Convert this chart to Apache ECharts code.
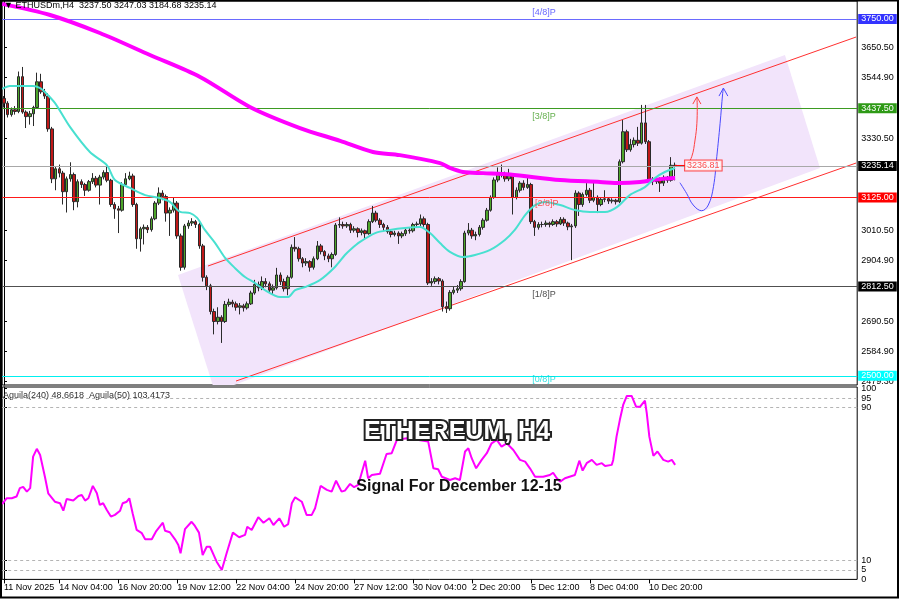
<!DOCTYPE html>
<html><head><meta charset="utf-8">
<script src="https://cdn.jsdelivr.net/npm/echarts@6/dist/echarts.min.js"></script>
<style>html,body{margin:0;padding:0;background:#fff}#c{width:900px;height:599px}</style>
</head><body><div id="c"></div><script>
// ---------- DATA ----------
// candles: [open, close, low, high]
const candles = [
[3472,3455,3440,3480],[3455,3415,3405,3462],[3415,3432,3408,3440],[3432,3426,3415,3445],[3426,3548,3420,3566],
[3548,3424,3418,3582],[3424,3408,3368,3430],[3408,3418,3380,3428],[3418,3440,3375,3446],[3440,3530,3435,3562],
[3530,3495,3488,3558],[3495,3480,3470,3505],[3480,3365,3355,3490],[3365,3190,3175,3372],[3190,3225,3150,3232],
[3225,3210,3195,3240],[3210,3145,3100,3218],[3145,3190,3072,3198],[3190,3205,3180,3248],[3205,3110,3080,3212],
[3110,3180,3090,3188],[3180,3170,3158,3188],[3170,3150,3130,3176],[3150,3180,3145,3186],[3180,3192,3172,3210],
[3192,3168,3160,3200],[3168,3196,3100,3204],[3196,3212,3188,3220],[3212,3185,3178,3240],[3185,3100,3092,3190],
[3100,3085,3050,3108],[3085,3080,3000,3095],[3080,3170,3075,3178],[3170,3190,3162,3210],[3190,3200,3185,3215],
[3200,3100,3092,3208],[3100,2980,2945,3106],[2980,3015,2935,3022],[3015,3020,2960,3030],[3020,3012,3000,3028],
[3012,3050,3005,3058],[3050,3105,3045,3112],[3105,3140,3098,3160],[3140,3128,3115,3150],[3128,3070,3040,3135],
[3070,3080,2990,3090],[3080,3105,3072,3125],[3105,2990,2980,3112],[2990,2880,2868,2998],[2880,3025,2872,3032],
[3025,3035,3015,3045],[3035,3040,3025,3052],[3040,3030,3018,3046],[3030,2955,2945,3036],[2955,2845,2830,2962],
[2845,2815,2800,2852],[2815,2725,2715,2822],[2725,2690,2645,2735],[2690,2705,2680,2740],[2705,2690,2615,2712],
[2690,2750,2685,2762],[2750,2758,2742,2770],[2758,2752,2740,2766],[2752,2740,2728,2760],[2740,2745,2715,2755],
[2745,2738,2725,2752],[2738,2752,2732,2760],[2752,2790,2748,2798],[2790,2820,2784,2836],[2820,2808,2796,2830],
[2808,2830,2800,2848],[2830,2822,2810,2842],[2822,2800,2790,2830],[2800,2808,2785,2820],[2808,2853,2802,2878],
[2853,2830,2818,2862],[2830,2805,2795,2840],[2805,2845,2782,2852],[2845,2950,2840,2960],[2950,2945,2935,2986],
[2945,2910,2900,2952],[2910,2895,2880,2916],[2895,2900,2885,2912],[2900,2880,2865,2905],[2880,2910,2872,2918],
[2910,2955,2905,2972],[2955,2935,2925,2962],[2935,2920,2905,2940],[2920,2910,2898,2928],[2910,2925,2880,2932],
[2925,3028,2920,3035],[3028,3030,3018,3055],[3030,3025,3015,3040],[3025,3030,3018,3038],[3030,3010,3000,3036],
[3010,3015,3002,3024],[3015,3002,2985,3020],[3002,3008,2992,3016],[3008,2998,2978,3012],[2998,3040,2994,3048],
[3040,3070,3035,3095],[3070,3045,3038,3078],[3045,3030,3018,3052],[3030,3020,3008,3036],[3020,3005,2998,3028],
[3005,2995,2985,3012],[2995,3000,2988,3008],[3000,2990,2962,3006],[2990,2998,2982,3005],[2998,3010,2990,3016],
[3010,3008,2998,3018],[3008,3030,3002,3036],[3030,3032,3020,3040],[3032,3050,3025,3065],[3050,3030,3022,3058],
[3030,2825,2818,3036],[2825,2830,2815,2842],[2830,2840,2822,2848],[2840,2832,2820,2846],[2832,2742,2725,2838],
[2742,2735,2720,2760],[2735,2792,2728,2800],[2792,2800,2785,2812],[2800,2805,2790,2818],[2805,2830,2798,2838],
[2830,3000,2826,3008],[3000,3010,2992,3035],[3010,2990,2980,3018],[2990,2995,2975,3005],[2995,3020,2988,3028],
[3020,3045,3012,3052],[3045,3080,3040,3088],[3080,3125,3075,3132],[3125,3186,3120,3195],[3186,3210,3178,3230],
[3210,3205,3195,3240],[3205,3190,3180,3215],[3190,3205,3182,3225],[3205,3125,3065,3210],[3125,3150,3118,3160],
[3150,3175,3142,3182],[3175,3160,3150,3185],[3160,3170,3155,3200],[3170,3040,3032,3176],[3040,3020,2990,3046],
[3020,3030,3012,3038],[3030,3030,3020,3040],[3030,3035,3022,3044],[3035,3030,3020,3040],[3030,3040,3025,3048],
[3040,3032,3022,3046],[3032,3048,3028,3056],[3048,3035,3025,3055],[3035,3022,3010,3040],[3022,3025,2905,3032],
[3025,3140,3018,3150],[3140,3100,3060,3146],[3100,3135,3092,3142],[3135,3150,3128,3175],[3150,3115,3105,3158],
[3115,3125,3108,3178],[3125,3100,3070,3132],[3100,3118,3094,3126],[3118,3120,3108,3150],[3120,3112,3102,3126],
[3112,3115,3104,3122],[3115,3110,3100,3120],[3110,3250,3105,3258],[3250,3355,3244,3396],[3355,3292,3284,3362],
[3292,3310,3285,3330],[3310,3325,3300,3335],[3325,3315,3305,3372],[3315,3386,3310,3449],[3386,3320,3312,3449],
[3320,3188,3180,3326],[3188,3180,3168,3196],[3180,3190,3172,3198],[3190,3175,3144,3195],[3175,3195,3165,3202],
[3195,3185,3176,3200],[3185,3237.5,3180,3266],[3237.50,3235.14,3184.68,3247.03]
];
// moving averages: [bar index, price]
const maFast = [[-0.5,3505],[1.6,3515],[4.3,3515],[7.9,3515],[9.8,3508],[11.1,3494],[13.8,3456],[17.9,3372],[23.3,3284],[27.9,3238],[30.1,3186],[34.2,3158],[38.3,3133],[42.3,3123],[45.0,3109],[47.8,3074],[50.5,3070],[52.4,3053],[54.5,3011],[57.3,2965],[60.0,2913],[62.7,2877],[65.4,2846],[68.1,2825],[70.8,2800],[74.9,2776],[77.1,2776],[79.0,2800],[81.7,2811],[85.7,2835],[89.8,2881],[92.5,2923],[93.9,2941],[96.6,2969],[100.7,3000],[104.7,3011],[108.8,3018],[112.9,3021],[115.6,3000],[118.3,2965],[121.0,2934],[124.5,2916],[127.8,2923],[131.9,2941],[135.9,2976],[138.6,3011],[141.4,3063],[144.1,3098],[146.8,3109],[150.9,3098],[154.9,3081],[159.0,3074],[163.1,3074],[166.3,3091],[169.8,3133],[173.9,3161],[176.6,3193],[179.3,3214],[182.1,3228]];
const maSlow = [[-0.5,3803],[12.5,3764],[26.0,3701],[39.6,3624],[53.2,3547],[66.7,3442],[80.3,3368],[91.2,3323],[100.1,3284],[107.4,3273],[118.3,3245],[121.0,3228],[124.5,3214],[130.0,3210],[137.3,3205],[150.9,3186],[161.7,3179],[167.1,3175],[172.6,3179],[178.0,3189],[182.1,3193]];
// Aguila(240) oscillator: [bar index, value]
const aguila = [[-0.5,39.4],[0.7,42.5],[2.1,42.5],[3.4,43.4],[4.3,47.8],[5.2,48.5],[6.2,46],[7.1,47.8],[7.9,64.3],[8.9,68.4],[9.8,65.2],[11.1,53.8],[12.0,45.1],[13.8,40.7],[15.2,39.9],[16.1,36],[17.0,42.1],[18.8,41.3],[20.2,43.7],[21.1,44.2],[22.0,41.3],[22.9,42.5],[24.1,49],[25.2,45.1],[26.0,39],[26.9,39.9],[27.9,36.4],[29.0,32.9],[30.1,33.8],[31.5,36],[32.2,39.9],[33.3,40.7],[34.0,42.5],[34.9,34.7],[36.0,25.9],[37.4,24.2],[38.3,21],[40.1,21],[41.2,25],[43.1,29.7],[43.7,25.5],[45.0,24.7],[46.4,21],[47.3,18],[47.9,13.7],[49.1,26.3],[50.9,30.2],[51.8,28],[52.9,24.5],[53.9,12.8],[55.0,17.1],[55.9,17.1],[57.7,9.3],[59.1,4.9],[60.4,13.7],[62.1,24.5],[63.8,22.1],[65.4,23.3],[66.0,27.6],[67.2,25.9],[69.0,32.6],[70.4,29.7],[72.0,32],[73.1,28.5],[74.7,32],[76.0,27.6],[77.1,29],[78.1,39.9],[79.0,43],[80.8,40.7],[82.1,33.8],[83.5,33.8],[84.4,37.3],[85.9,49],[87.6,46.9],[88.9,46],[90.1,51.7],[91.6,46],[92.5,46.5],[93.9,50],[95.0,48.3],[96.1,49.5],[98.0,62.2],[98.8,53],[99.8,54.7],[102.0,55.3],[103.8,65.7],[105.2,66.1],[106.6,73.1],[109.3,74],[112.1,73.1],[115.1,72.2],[116.5,58.2],[117.8,57.7],[118.8,53.8],[121.0,52.1],[122.4,53],[123.7,52.1],[125.1,67],[126.0,68.7],[126.9,63.5],[128.1,58.2],[129.6,62.6],[131.0,66.1],[132.3,71.3],[133.7,73.1],[135.0,69.6],[136.4,71.3],[138.2,67.8],[140.0,62.6],[141.4,61.7],[142.7,58.2],[144.1,53.8],[146.3,53.8],[148.1,54.7],[149.0,55.9],[150.0,53],[150.9,51.2],[152.2,53],[154.9,54.7],[155.4,55.6],[156.1,62.2],[157.0,57],[158.1,60.9],[159.5,62.6],[160.8,60],[162.2,60.9],[163.1,59.4],[164.9,60],[165.3,62.6],[166.2,74.8],[167.1,83.6],[168.0,91.4],[169.0,96.1],[170.3,96.1],[171.5,90.5],[172.6,90.5],[173.9,93.7],[174.4,87.1],[175.1,74.8],[176.2,64.7],[177.3,67],[178.9,62.6],[180.2,61.7],[181.2,62.6],[182.1,60]];
// horizontal levels
const levelValues = [3750, 3437.5, 3235.14, 3125, 2812.5, 2500];
const levelNames = ['[4/8]P', '[3/8]P', '[2/8]P', '[1/8]P', '[0/8]P'];
const levelNameAnchors = [[143.3,3774.5],[143.3,3410],[144.1,3103],[143.3,2786.4],[143.3,2486]];
// channel annotations [bar index, price]
const channelUpper = [[55.35,2884.5],[231.2,3686.9]];
const channelLower = [[62.95,2481.5],[231.2,3245.4]];
const channelBox = [[47.21,2853.0],[56.63,2467.6],[62.40,2467.6],[221.4,3227.9],[211.9,3623.9]];
const arrowUp = [[185.0,3230.4],[186.6,3267.5],[187.5,3326],[188.0,3384.5],[188.1,3440],[188.0,3477]];
const arrowUpHead = [[186.9,3452],[188.0,3477],[189.1,3452]];
const arrowDip = [[183.4,3176.4],[185.2,3139.3],[187.0,3098.3],[189.3,3078.3],[191.1,3098.3],[192.5,3162.4],[193.4,3267.5],[194.3,3384.5],[195.0,3489.7],[195.2,3508]];
const arrowDipHead = [[194.0,3480],[195.2,3508],[196.4,3480]];
const markerPrice = 3236.81;
const priceTicks = [3650.5, 3544.9, 3330.5, 3010.5, 2904.9, 2690.5, 2584.9, 2479.3];
const indTicks = [0, 5, 10, 90, 95, 100];
const indLevels = [95, 90, 10, 5];
const xTickLabels = ['11 Nov 2025','14 Nov 04:00','16 Nov 20:00','19 Nov 12:00','22 Nov 04:00','24 Nov 20:00','27 Nov 12:00','30 Nov 04:00','2 Dec 20:00','5 Dec 12:00','8 Dec 04:00','10 Dec 20:00'];

// ---------- BUILD ----------
const N = 232;
const MONTHS = ['Jan','Feb','Mar','Apr','May','Jun','Jul','Aug','Sep','Oct','Nov','Dec'];
const t0 = Date.UTC(2025,10,11,16);
const categories = [];
for (let i = 0; i < N; i++) {
  const d = new Date(t0 + i*4*3600e3);
  const hh = String(d.getUTCHours()).padStart(2,'0');
  categories.push(d.getUTCDate() + ' ' + MONTHS[d.getUTCMonth()] + ' ' + hh + ':00');
}
categories[0] = xTickLabels[0];
const showTick = (i) => xTickLabels.indexOf(categories[i]) >= 0;

const FONT = 'Liberation Sans';
const levelLine = ['#6a6aff','#3d9b22','#a8a8a8','#ff1a1a','#505050','#00f0f0'];
const levelBox  = ['#3333ff','#2e9a16','#000000','#ff0000','#000000','#00ffff'];
const levelTextColor = ['#3d3dff','#3d9b22','#ff3030','#222222','#00d8d8'];

const chart = echarts.init(document.getElementById('c'), null, {renderer:'canvas'});
const option = {
  animation: false,
  backgroundColor: '#ffffff',
  grid: [
    {left: 2.16, right: 42.8, top: 1, height: 384, show: true, borderColor: '#000', borderWidth: 1},
    {left: 2.16, right: 42.8, top: 387, height: 192.4, show: true, borderColor: '#000', borderWidth: 1}
  ],
  xAxis: [
    {type:'category', gridIndex:0, data:categories, boundaryGap:true, axisLine:{show:false}, axisTick:{show:false}, axisLabel:{show:false}, splitLine:{show:false}},
    {type:'value', gridIndex:0, min:-0.5, max:N-0.5, show:false},
    {type:'category', gridIndex:1, data:categories, boundaryGap:true, axisLine:{show:false},
      axisTick:{show:true, interval:showTick, alignWithLabel:true, length:4, lineStyle:{color:'#000'}},
      axisLabel:{interval:showTick, align:'left', margin:4, fontSize:9, color:'#000', fontFamily:FONT}, splitLine:{show:false}},
    {type:'value', gridIndex:1, min:-0.5, max:N-0.5, show:false}
  ],
  yAxis: [
    {type:'value', gridIndex:0, position:'right', min:2467.6, max:3813.1, splitLine:{show:false},
      axisLine:{show:true, lineStyle:{color:'#000'}},
      axisTick:{show:true, customValues:priceTicks, length:3, lineStyle:{color:'#000'}},
      axisLabel:{customValues:priceTicks, formatter:v=>Number(v).toFixed(2), fontSize:9, color:'#000', margin:4, fontFamily:FONT}},
    {type:'value', gridIndex:1, position:'right', min:0, max:100.8, splitLine:{show:false},
      axisLine:{show:true, lineStyle:{color:'#000'}},
      axisTick:{show:true, customValues:indTicks, length:3, lineStyle:{color:'#000'}},
      axisLabel:{customValues:indTicks, fontSize:9, color:'#000', margin:4, fontFamily:FONT}}
  ],
  series: [
    {type:'custom', name:'box', xAxisIndex:1, yAxisIndex:0, z:1, silent:true, data:[[0,0]],
      renderItem:(p, api) => ({type:'polygon', shape:{points: channelBox.map(pt => api.coord(pt))}, style:{fill:'#f2e4fb'}})},
    {type:'line', name:'levels', xAxisIndex:1, yAxisIndex:0, data:[], z:2, silent:true,
      markLine:{silent:true, symbol:['none','none'], animation:false,
        data: levelValues.map((v,i) => ({yAxis:v, lineStyle:{color:levelLine[i], width:1, type:'solid'},
          label:{show:true, position:'end', distance:1, formatter:v.toFixed(2), color:'#fff', backgroundColor:levelBox[i],
            padding:[1,3,0,3], fontSize:9, fontFamily:FONT}}))}},
    {type:'line', name:'chU', xAxisIndex:1, yAxisIndex:0, data:channelUpper, symbol:'none', lineStyle:{color:'#ff3030', width:1}, z:3, silent:true},
    {type:'line', name:'chL', xAxisIndex:1, yAxisIndex:0, data:channelLower, symbol:'none', lineStyle:{color:'#ff3030', width:1}, z:3, silent:true},
    {type:'candlestick', xAxisIndex:0, yAxisIndex:0, data:candles, barWidth:3, z:4,
      itemStyle:{color:'#4da52a', color0:'#c01818', borderColor:'#2a2a2a', borderColor0:'#2a2a2a', borderWidth:1}},
    {type:'line', name:'ma200', xAxisIndex:1, yAxisIndex:0, data:maSlow, symbol:'none', smooth:0.3, lineStyle:{color:'#ff00ff', width:4}, z:5},
    {type:'line', name:'ma21', xAxisIndex:1, yAxisIndex:0, data:maFast, symbol:'none', smooth:0.3, lineStyle:{color:'#48e0d0', width:2}, z:6},
    {type:'scatter', name:'levelNames', xAxisIndex:1, yAxisIndex:0, symbolSize:0, z:7, silent:true,
      data: levelNameAnchors.map((p,i) => ({value:p, label:{show:true, position:'right', distance:0, formatter:levelNames[i], color:levelTextColor[i], fontSize:9, fontFamily:FONT}}))},
    {type:'line', name:'arrowUp', xAxisIndex:1, yAxisIndex:0, data:arrowUp, symbol:'none', smooth:0.4, lineStyle:{color:'#ff4040', width:1}, z:8},
    {type:'line', name:'arrowUpHead', xAxisIndex:1, yAxisIndex:0, data:arrowUpHead, symbol:'none', lineStyle:{color:'#ff4040', width:1}, z:8},
    {type:'line', name:'arrowDip', xAxisIndex:1, yAxisIndex:0, data:arrowDip, symbol:'none', smooth:0.4, lineStyle:{color:'#4a4aff', width:1}, z:8},
    {type:'line', name:'arrowDipHead', xAxisIndex:1, yAxisIndex:0, data:arrowDipHead, symbol:'none', lineStyle:{color:'#4a4aff', width:1}, z:8},
    {type:'line', name:'markerLink', xAxisIndex:1, yAxisIndex:0, data:[[182,markerPrice],[184.8,markerPrice]], symbol:'none', lineStyle:{color:'#ff0000', width:1}, z:8},
    {type:'scatter', name:'marker', xAxisIndex:1, yAxisIndex:0, symbolSize:0, z:9, silent:true,
      data:[{value:[184.8, markerPrice], label:{show:true, position:'right', distance:0, formatter:markerPrice.toFixed(2), color:'#ff2020',
        backgroundColor:'#fff', borderColor:'#ff2020', borderWidth:1, padding:[1,2,0,2], fontSize:9, fontFamily:FONT}}]},
    {type:'line', name:'aguila', xAxisIndex:3, yAxisIndex:1, data:aguila, symbol:'none', lineStyle:{color:'#ff00ff', width:2}, z:5,
      markLine:{silent:true, symbol:['none','none'], label:{show:false},
        data: indLevels.map(v => ({yAxis:v, lineStyle:{color:'#b4b4b4', width:1, type:[3,3]}}))}}
  ],
  graphic: [
    {type:'text', x:4, y:6, z:100, style:{text:'▼ ETHUSDm,H4  3237.50 3247.03 3184.68 3235.14', font:'9px "Liberation Sans"', fill:'#000', verticalAlign:'middle'}},
    {type:'text', x:3, y:396, z:100, style:{text:'Aguila(240) 48.6618  Aguila(50) 103.4173', font:'9px "Liberation Sans"', fill:'#333', verticalAlign:'middle'}},
    {type:'text', x:457, y:432, z:100, style:{text:'ETHEREUM, H4', font:'bold 25px "Liberation Sans"', fill:'#ffffff', stroke:'#222', lineWidth:4,
      align:'center', verticalAlign:'middle', shadowColor:'rgba(0,0,0,0.55)', shadowBlur:4, shadowOffsetX:2, shadowOffsetY:3}},
    {type:'text', x:459, y:487, z:100, style:{text:'Signal For December 12-15', font:'bold 16px "Liberation Sans"', fill:'#111',
      align:'center', verticalAlign:'middle', shadowColor:'rgba(0,0,0,0.45)', shadowBlur:3, shadowOffsetX:2, shadowOffsetY:2}},
    {type:'rect', z:100, shape:{x:1, y:0.5, width:897, height:597}, style:{fill:'none', stroke:'#000', lineWidth:2}}
  ]
};
chart.setOption(option);
</script></body></html>
